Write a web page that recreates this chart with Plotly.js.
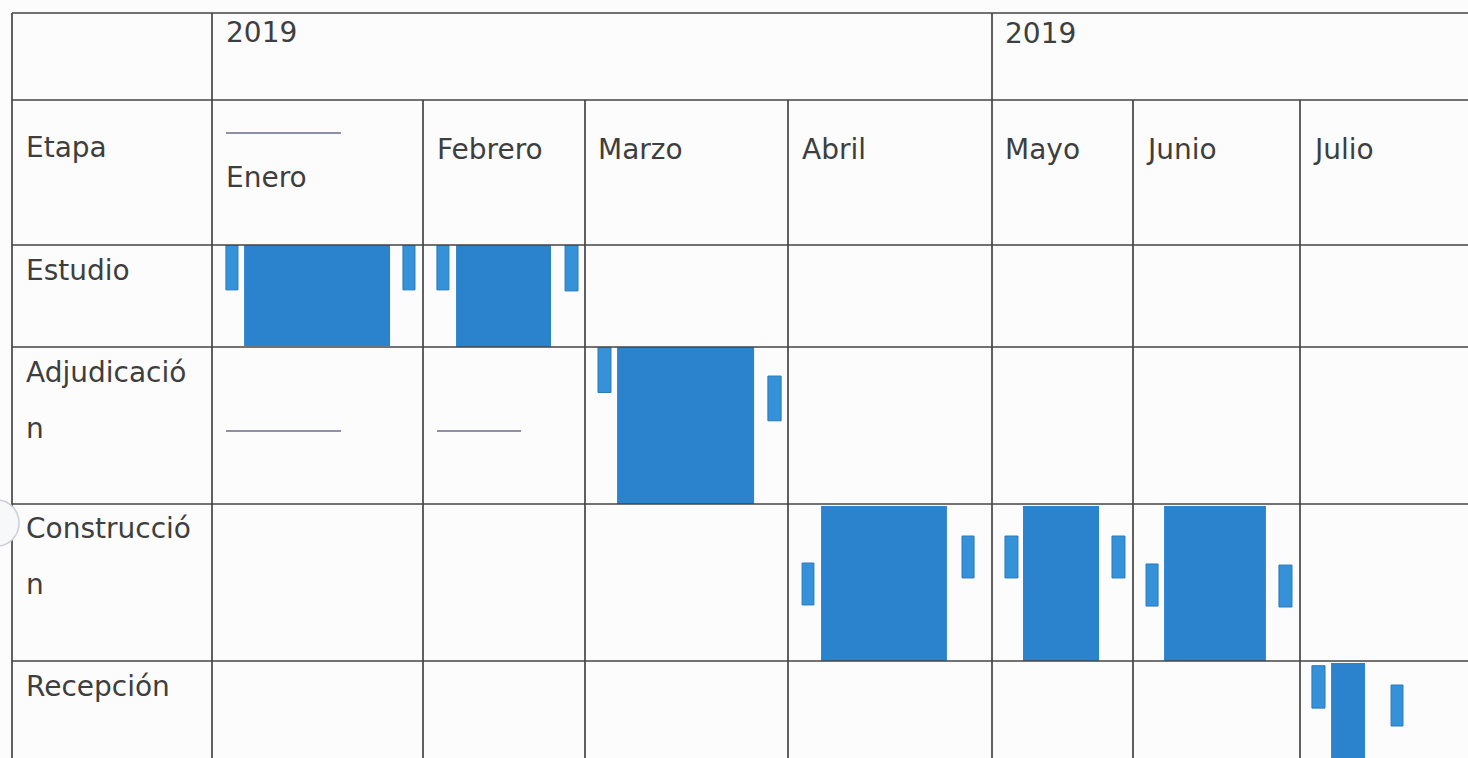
<!DOCTYPE html>
<html>
<head>
<meta charset="utf-8">
<script src="https://cdn.plot.ly/plotly-3.0.1.min.js"></script>
<style>html,body{margin:0;padding:0;background:#fcfcfd;}#chart{width:1468px;height:758px;}</style>
</head>
<body>
<div id="chart"></div>
<script>
// ---------------- DATA ----------------
const years = ['2019', '2019'];
const months = ['Enero', 'Febrero', 'Marzo', 'Abril', 'Mayo', 'Junio', 'Julio'];
const stageHeader = 'Etapa';
const stages = ['Estudio', 'Adjudicación', 'Construcción', 'Recepción'];

// Main activity blocks: month index, stage index, start/end as fraction of the month
const mainMonth = [0, 1, 2, 3, 4, 5, 6];
const mainStage = [0, 0, 1, 2, 2, 2, 3];
const mainStart = [0.152, 0.204, 0.158, 0.162, 0.220, 0.186, 0.185];
const mainEnd   = [0.844, 0.790, 0.833, 0.779, 0.759, 0.796, 0.387];
const mainTop    = [0.00, 0.00, 0.00, 0.013, 0.013, 0.013, 0.013];
const mainBottom = [0.99, 1.00, 1.00, 1.00, 1.00, 1.00, 1.00];

// Small marker blocks beside each main block
const tickMonth = [0, 0, 1, 1, 2, 2, 3, 3, 4, 4, 5, 5, 6, 6];
const tickStage = [0, 0, 0, 0, 1, 1, 2, 2, 2, 2, 2, 2, 3, 3];
const tickStart = [0.066, 0.905, 0.086, 0.877, 0.064, 0.901, 0.069, 0.853, 0.092, 0.851, 0.078, 0.874, 0.071, 0.542];
const tickEnd   = [0.123, 0.962, 0.160, 0.957, 0.128, 0.966, 0.127, 0.912, 0.184, 0.943, 0.150, 0.952, 0.149, 0.613];
const tickTop    = [0.00, 0.00, 0.00, 0.00, 0.00, 0.185, 0.376, 0.204, 0.204, 0.204, 0.382, 0.389, 0.03, 0.153];
const tickBottom = [0.44, 0.44, 0.44, 0.45, 0.29, 0.47, 0.643, 0.471, 0.471, 0.471, 0.650, 0.656, 0.30, 0.414];

// ---------------- LAYOUT (positions in page pixels) ----------------
const W = 1468, H = 758;
const colEdges = [212, 423, 585, 788, 992, 1133, 1300, 1468];
const rowEdges = [245, 347, 504, 661, 818];
const hLines = [13, 100, 245, 347, 504, 661];
const vFull = [12, 212, 992];
const vPart = [423, 585, 788, 1133, 1300];
const px = v => v / W;
const py = v => 1 - v / H;

const FONT = {family: 'DejaVu Sans, Arial, sans-serif', size: 28, color: '#3e3e3e'};
const LINE = {color: '#454545', width: 1.7};
const MAIN_COLOR = '#2a83cc';
const TICK_COLOR = '#3592d8';

const layout = {
  width: W, height: H,
  margin: {l: 0, r: 0, t: 0, b: 0},
  paper_bgcolor: '#fcfcfd', plot_bgcolor: 'rgba(0,0,0,0)',
  showlegend: false, barmode: 'overlay', hovermode: false,
  shapes: [], annotations: []
};

const axId = (p, i) => (i === 0 ? p : p + (i + 1));
const axKey = (p, i) => (i === 0 ? p + 'axis' : p + 'axis' + (i + 1));

months.forEach((m, i) => {
  layout[axKey('x', i)] = {domain: [px(colEdges[i]), px(colEdges[i + 1])], range: [0, 1],
    visible: false, fixedrange: true, anchor: 'y'};
});
stages.forEach((s, j) => {
  const top = rowEdges[j], bot = Math.min(rowEdges[j + 1], H);
  const frac = (bot - top) / (rowEdges[j + 1] - top);
  layout[axKey('y', j)] = {domain: [py(bot), py(top)], range: [frac, 0],
    visible: false, fixedrange: true, anchor: 'x'};
});

// grid lines
hLines.forEach(y => layout.shapes.push({type: 'line', xref: 'paper', yref: 'paper',
  x0: px(12), x1: 1, y0: py(y), y1: py(y), line: LINE, layer: 'above'}));
vFull.forEach(x => layout.shapes.push({type: 'line', xref: 'paper', yref: 'paper',
  x0: px(x), x1: px(x), y0: py(13), y1: 0, line: LINE, layer: 'above'}));
vPart.forEach(x => layout.shapes.push({type: 'line', xref: 'paper', yref: 'paper',
  x0: px(x), x1: px(x), y0: py(100), y1: 0, line: LINE, layer: 'above'}));

// faint grey strokes present in the source table
const GREY = {color: '#8d90a6', width: 2};
[[226, 341, 133], [226, 341, 431], [437, 521, 431]].forEach(([a, b, y]) =>
  layout.shapes.push({type: 'line', xref: 'paper', yref: 'paper',
    x0: px(a), x1: px(b), y0: py(y), y1: py(y), line: GREY}));

// scan artefact circle at the left edge
layout.shapes.push({type: 'circle', xref: 'paper', yref: 'paper',
  x0: px(-24), x1: px(19), y0: py(546), y1: py(500),
  line: {color: '#c9ced8', width: 1.5}, fillcolor: '#f7f8fa', layer: 'above'});

// texts
function label(text, x, y) {
  layout.annotations.push({text: text, xref: 'paper', yref: 'paper', x: px(x), y: py(y),
    xanchor: 'left', yanchor: 'middle', showarrow: false, font: FONT});
}
const yearPos = [[224, 32], [1003, 33]];
years.forEach((t, i) => label(t, yearPos[i][0], yearPos[i][1]));
label(stageHeader, 24, 148);
const monthPos = [[224, 177], [435, 149], [596, 149], [800, 149], [1003, 149], [1144, 149], [1311, 149]];
months.forEach((m, i) => label(m, monthPos[i][0], monthPos[i][1]));
// stage names wrap like the original narrow cells (last letter on a new line)
const stageLines = [
  [[stages[0], 270]],
  [[stages[1].slice(0, -1), 372], [stages[1].slice(-1), 428]],
  [[stages[2].slice(0, -1), 528], [stages[2].slice(-1), 584]],
  [[stages[3], 686]]
];
stageLines.forEach(lines => lines.forEach(([t, y]) => label(t, 24, y)));

// ---------------- TRACES ----------------
const traces = [];
function addBar(mi, si, s, e, t, b, color, isTick) {
  traces.push({
    type: 'bar', orientation: 'v',
    x: [(s + e) / 2], width: [e - s], base: [t], y: [b - t],
    xaxis: axId('x', mi), yaxis: axId('y', si),
    marker: {color: color, line: {color: isTick ? '#2a78bd' : color, width: isTick ? 1 : 0}},
    hoverinfo: 'skip'
  });
}
mainMonth.forEach((m, k) => addBar(m, mainStage[k], mainStart[k], mainEnd[k], mainTop[k], mainBottom[k], MAIN_COLOR, false));
tickMonth.forEach((m, k) => addBar(m, tickStage[k], tickStart[k], tickEnd[k], tickTop[k], tickBottom[k], TICK_COLOR, true));

Plotly.newPlot('chart', traces, layout, {staticPlot: true, displayModeBar: false});
</script>
</body>
</html>
